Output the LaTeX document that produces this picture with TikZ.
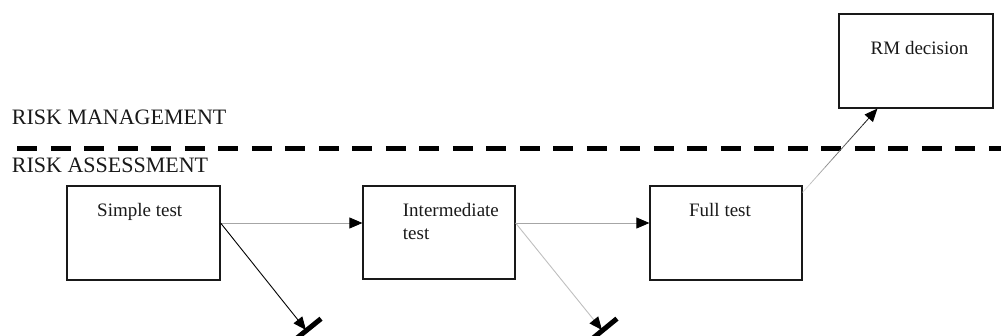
\documentclass[tikz,border=0pt]{standalone}
\usepackage{fontspec}
\setmainfont{Liberation Serif}
\usetikzlibrary{arrows.meta,calc}

\tikzset{
  stage/.style={draw=black!90, line width=1.2pt, minimum width=#1, inner sep=0pt},
  boxtext/.style={font=\fontsize{19}{23}\selectfont, inner sep=0pt, text=black!90},
  layer/.style={font=\fontsize{22}{26}\selectfont, inner sep=0pt, anchor=base west, text=black!90},
  tip/.style={-{Triangle[length=13pt,width=11pt,color=black]}},
  flow/.style={draw=black!35, line width=0.8pt, tip},
  halt/.style={line width=0.9pt, tip},
  haltbar/.style={draw=black, line width=5pt},
  border/.style={draw=black, line width=5pt, dash pattern=on 20pt off 13.5pt},
}

\begin{document}
\begin{tikzpicture}[x=1pt, y=-1pt]
  \useasboundingbox (0,0) rectangle (1001,336);

  % layer separation
  \coordinate (sepL) at (17.3,148.5);
  \coordinate (sepR) at (1001,148.5);
  \draw[border] (sepL) -- (sepR);
  \node[layer] (rmlabel) at (11.7,125) {RISK MANAGEMENT};
  \node[layer] (ralabel) at (11.7,173) {RISK ASSESSMENT};

  % stages
  \node[stage=153pt, minimum height=94pt] (s)  at (143.5,233)  {};
  \node[stage=152pt, minimum height=93pt] (i)  at (439,232.5)  {};
  \node[stage=152pt, minimum height=94pt] (f)  at (726,233)    {};
  \node[stage=154pt, minimum height=94pt] (rm) at (916,61)     {};

  \node[boxtext, anchor=base] (st)  at (139.7,217) {Simple test};
  \node[boxtext, anchor=base west] (it1) at (402.7,216.7) {Intermediate};
  \node[boxtext, anchor=base west] (it2) at (402.7,239.7) {test};
  \node[boxtext, anchor=base] (ft)  at (720,216.7) {Full test};
  \node[boxtext, anchor=base] (rmt) at (919.5,55)  {RM decision};

  % connection points
  \coordinate (s-out) at ([yshift=10pt]s.east);
  \coordinate (i-out) at ([yshift=9.5pt]i.east);
  \coordinate (f-out) at ([yshift=-7pt]f.north east);
  \coordinate (rm-in) at ([xshift=39pt]rm.south west);
  \coordinate (stop1) at (306,330);
  \coordinate (stop2) at (602,330);
  \coordinate (bar1) at (307,330);
  \coordinate (bar2) at (603,330);

  % forward flow
  \draw[flow] (s-out) -- (s-out -| i.west);
  \draw[flow] (i-out) -- (i-out -| f.west);

  % stop branches
  \draw[halt, draw=black] (s-out) -- (stop1);
  \draw[haltbar] ($(bar1)!18pt!90:(s-out)$) -- ($(bar1)!18pt!-90:(s-out)$);
  \draw[halt, draw=black!25] (i-out) -- (stop2);
  \draw[haltbar] ($(bar2)!18pt!90:(i-out)$) -- ($(bar2)!18pt!-90:(i-out)$);

  % escalation to risk management, fading in
  \foreach \k [evaluate=\k as \pct using 15+\k*9.4] in {0,...,8}{
    \draw[draw=black!\pct, line width=0.8pt]
      ($(f-out)!\k/10!(rm-in)$) -- ($(f-out)!\k/10+0.1!(rm-in)$);
  }
  \draw[halt, draw=black] ($(f-out)!0.9!(rm-in)$) -- (rm-in);
\end{tikzpicture}
\end{document}
